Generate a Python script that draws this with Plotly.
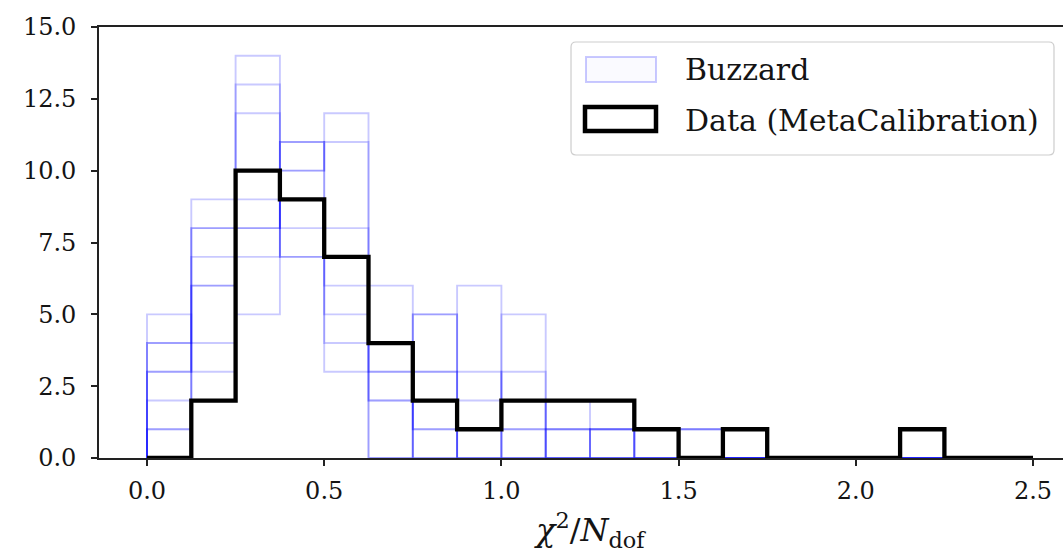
import plotly.graph_objects as go

# ---- data ----
bin_edges = [0.0, 0.125, 0.25, 0.375, 0.5, 0.625, 0.75, 0.875, 1.0, 1.125, 1.25,
             1.375, 1.5, 1.625, 1.75, 1.875, 2.0, 2.125, 2.25, 2.375, 2.5]

data_counts = [0, 2, 10, 9, 7, 4, 2, 1, 2, 2, 2, 1, 0, 1, 0, 0, 0, 1, 0, 0]

buzzard_1 = [1, 6, 14, 7, 5, 6, 0, 1, 1, 0, 1, 0, 1, 0, 0, 0, 0, 0, 0, 0]
buzzard_2 = [4, 8, 13, 8, 4, 2, 1, 6, 0, 0, 0, 0, 0, 0, 0, 0, 0, 0, 0, 0]
buzzard_3 = [3, 9, 12, 7, 3, 0, 5, 0, 1, 1, 0, 1, 0, 0, 0, 0, 0, 0, 0, 0]
buzzard_4 = [5, 3, 9, 10, 12, 2, 0, 2, 3, 0, 0, 0, 0, 0, 0, 0, 0, 0, 0, 0]
buzzard_5 = [2, 8, 8, 11, 6, 3, 3, 0, 0, 2, 1, 0, 1, 0, 0, 0, 0, 0, 0, 0]
buzzard_6 = [4, 6, 5, 10, 11, 4, 1, 0, 5, 1, 0, 1, 0, 0, 0, 0, 0, 0, 0, 0]
buzzard_7 = [3, 7, 8, 9, 7, 3, 3, 3, 0, 1, 1, 0, 0, 0, 0, 0, 0, 0, 0, 0]
buzzard_8 = [1, 4, 7, 11, 8, 0, 5, 1, 2, 0, 1, 1, 1, 0, 0, 0, 0, 0, 0, 0]
buzzard_runs = [buzzard_1, buzzard_2, buzzard_3, buzzard_4,
                buzzard_5, buzzard_6, buzzard_7, buzzard_8]

x_ticks = [0.0, 0.5, 1.0, 1.5, 2.0, 2.5]
y_ticks = [0.0, 2.5, 5.0, 7.5, 10.0, 12.5, 15.0]
legend_labels = ["Buzzard", "Data (MetaCalibration)"]
x_title = "<i>χ</i><sup>2</sup>/<i>N</i><sub>dof</sub>"

# ---- styles ----
BLUE = "rgba(0,0,255,0.21)"
FONT = "DejaVu Serif"
TXT = "#141414"
W, H = 1063, 558
L, T, B = 99, 27, 100
PW, PH = W - L, H - T - B


def step_xy(edges, counts):
    xs, ys = [edges[0]], [0]
    for i, c in enumerate(counts):
        xs += [edges[i], edges[i + 1]]
        ys += [c, c]
    xs.append(edges[-1])
    ys.append(0)
    return xs, ys


fig = go.Figure()
for run in buzzard_runs:
    xs, ys = step_xy(bin_edges, run)
    fig.add_trace(go.Scatter(x=xs, y=ys, mode="lines",
                             line=dict(color=BLUE, width=1.9),
                             showlegend=False, hoverinfo="skip"))

xs, ys = step_xy(bin_edges, data_counts)
fig.add_trace(go.Scatter(x=xs, y=ys, mode="lines",
                         line=dict(color="black", width=4.3),
                         showlegend=False, hoverinfo="skip"))


# ---- manual legend (matplotlib-style patches), pixel -> paper ----
def px(xp):
    return (xp - L) / PW


def py(yp):
    return (H - B - yp) / PH


lx0, lx1, ly0, ly1, rad = 571, 1054, 42, 155, 5
pts = [("M", lx0 + rad, ly0), ("L", lx1 - rad, ly0), ("Q", lx1, ly0), ("", lx1, ly0 + rad),
       ("L", lx1, ly1 - rad), ("Q", lx1, ly1), ("", lx1 - rad, ly1),
       ("L", lx0 + rad, ly1), ("Q", lx0, ly1), ("", lx0, ly1 - rad),
       ("L", lx0, ly0 + rad), ("Q", lx0, ly0), ("", lx0 + rad, ly0)]
path = " ".join(f"{c} {px(a):.5f},{py(b):.5f}".strip() for c, a, b in pts) + " Z"

shapes = [
    dict(type="path", xref="paper", yref="paper", path=path,
         line=dict(color="rgba(200,200,200,0.9)", width=1.2),
         fillcolor="rgba(255,255,255,0.85)", layer="above"),
    dict(type="rect", xref="paper", yref="paper",
         x0=px(586), x1=px(656), y0=py(57), y1=py(82),
         line=dict(color=BLUE, width=2), fillcolor="rgba(0,0,255,0.02)",
         layer="above"),
    dict(type="rect", xref="paper", yref="paper",
         x0=px(585), x1=px(656), y0=py(107), y1=py(131),
         line=dict(color="black", width=4.5), fillcolor="rgba(0,0,0,0)",
         layer="above"),
]

annotations = [
    dict(xref="paper", yref="paper", x=px(683), y=py(69), text=legend_labels[0],
         showarrow=False, xanchor="left", yanchor="middle",
         font=dict(family=FONT, size=30, color=TXT)),
    dict(xref="paper", yref="paper", x=px(683), y=py(120), text=legend_labels[1],
         showarrow=False, xanchor="left", yanchor="middle",
         font=dict(family=FONT, size=30, color=TXT)),
    dict(xref="paper", yref="paper", x=px(590), y=py(530), text=x_title,
         showarrow=False, xanchor="center", yanchor="middle",
         font=dict(family=FONT, size=32, color=TXT)),
]

x_lo = -(147 - L) / 354.4
x_hi = x_lo + PW / 354.4

fig.update_layout(
    width=W, height=H,
    margin=dict(l=L, r=0, t=T, b=B, pad=0),
    paper_bgcolor="white", plot_bgcolor="white",
    shapes=shapes, annotations=annotations,
    showlegend=False,
    xaxis=dict(range=[x_lo, x_hi], tickvals=x_ticks,
               ticktext=[f"{v:.1f}" for v in x_ticks],
               ticks="outside", ticklen=6, tickwidth=1.5, tickcolor="#222",
               showline=True, linecolor="#222", linewidth=1.6, mirror=True,
               showgrid=False, zeroline=False, ticklabelstandoff=4,
               tickfont=dict(family=FONT, size=24, color=TXT)),
    yaxis=dict(range=[0, 15], tickvals=y_ticks,
               ticktext=[f"{v:.1f}" for v in y_ticks],
               ticks="outside", ticklen=6, tickwidth=1.5, tickcolor="#222",
               showline=True, linecolor="#222", linewidth=1.6, mirror=False,
               showgrid=False, zeroline=False, ticklabelstandoff=10,
               tickfont=dict(family=FONT, size=24, color=TXT)),
)

fig.write_html("out.html")
